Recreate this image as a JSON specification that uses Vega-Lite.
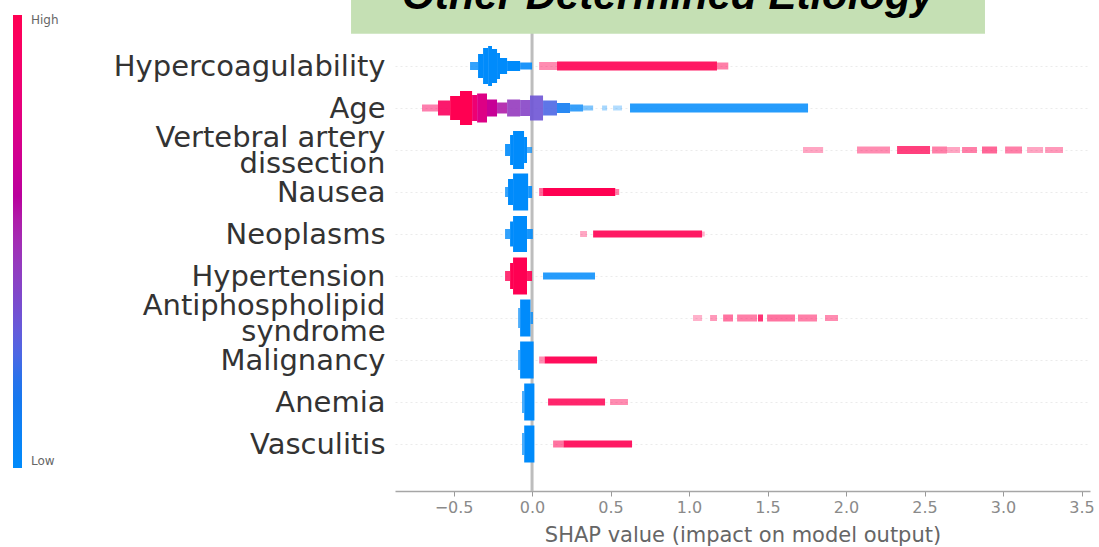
{
  "$schema": "https://vega.github.io/schema/vega-lite/v6.json",
  "width": 695,
  "height": 472,
  "autosize": "none",
  "padding": {"left": 395, "top": 19, "right": 9, "bottom": 56},
  "background": "white",
  "config": {"view": {"stroke": null}, "font": "DejaVu Sans"},
  "data": {"values": [
    {"r":0,"a":-0.395,"b":-0.344,"h":8,"c":0,"d":0.8},
    {"r":0,"a":-0.344,"b":-0.312,"h":24,"c":0,"d":1},
    {"r":0,"a":-0.312,"b":-0.280,"h":36,"c":0,"d":1},
    {"r":0,"a":-0.280,"b":-0.255,"h":40,"c":0,"d":1},
    {"r":0,"a":-0.255,"b":-0.223,"h":34,"c":0,"d":1},
    {"r":0,"a":-0.223,"b":-0.204,"h":26,"c":0,"d":1},
    {"r":0,"a":-0.204,"b":-0.159,"h":16,"c":0,"d":1},
    {"r":0,"a":-0.159,"b":-0.076,"h":10,"c":0,"d":1},
    {"r":0,"a":-0.076,"b":0,"h":7,"c":0.02,"d":0.9},
    {"r":0,"a":0.045,"b":0.159,"h":8,"c":1,"d":0.45},
    {"r":0,"a":0.159,"b":1.178,"h":9,"c":1,"d":0.9},
    {"r":0,"a":1.178,"b":1.25,"h":7,"c":1,"d":0.5},

    {"r":1,"a":-0.701,"b":-0.599,"h":7,"c":0.95,"d":0.5},
    {"r":1,"a":-0.599,"b":-0.522,"h":15,"c":0.95,"d":0.9},
    {"r":1,"a":-0.522,"b":-0.459,"h":24,"c":1,"d":1},
    {"r":1,"a":-0.459,"b":-0.382,"h":34,"c":1,"d":1},
    {"r":1,"a":-0.382,"b":-0.350,"h":26,"c":0.85,"d":1},
    {"r":1,"a":-0.350,"b":-0.287,"h":29,"c":0.75,"d":1},
    {"r":1,"a":-0.287,"b":-0.223,"h":17,"c":0.65,"d":1},
    {"r":1,"a":-0.223,"b":-0.159,"h":11,"c":0.55,"d":0.9},
    {"r":1,"a":-0.159,"b":-0.076,"h":17,"c":0.45,"d":0.9},
    {"r":1,"a":-0.076,"b":-0.013,"h":16,"c":0.4,"d":0.9},
    {"r":1,"a":-0.013,"b":0.070,"h":25,"c":0.33,"d":0.9},
    {"r":1,"a":0.070,"b":0.159,"h":15,"c":0.25,"d":0.9},
    {"r":1,"a":0.159,"b":0.242,"h":10,"c":0.12,"d":0.9},
    {"r":1,"a":0.242,"b":0.325,"h":7,"c":0.03,"d":0.8},
    {"r":1,"a":0.325,"b":0.389,"h":5,"c":0,"d":0.5},
    {"r":1,"a":0.446,"b":0.478,"h":5,"c":0,"d":0.35},
    {"r":1,"a":0.516,"b":0.573,"h":5,"c":0,"d":0.3},
    {"r":1,"a":0.624,"b":1.758,"h":9,"c":0,"d":0.85},

    {"r":2,"a":-0.172,"b":-0.140,"h":12,"c":0,"d":0.9},
    {"r":2,"a":-0.140,"b":-0.121,"h":30,"c":0,"d":1},
    {"r":2,"a":-0.121,"b":-0.051,"h":38,"c":0,"d":1},
    {"r":2,"a":-0.051,"b":-0.032,"h":26,"c":0,"d":1},
    {"r":2,"a":-0.032,"b":0,"h":6,"c":0,"d":0.7},
    {"r":2,"a":1.726,"b":1.854,"h":6,"c":1,"d":0.35},
    {"r":2,"a":2.070,"b":2.280,"h":7,"c":1,"d":0.45},
    {"r":2,"a":2.325,"b":2.535,"h":8,"c":1,"d":0.75},
    {"r":2,"a":2.548,"b":2.643,"h":7,"c":1,"d":0.5},
    {"r":2,"a":2.643,"b":2.726,"h":6,"c":1,"d":0.35},
    {"r":2,"a":2.739,"b":2.834,"h":6,"c":1,"d":0.5},
    {"r":2,"a":2.866,"b":2.962,"h":7,"c":1,"d":0.6},
    {"r":2,"a":3.013,"b":3.121,"h":7,"c":1,"d":0.5},
    {"r":2,"a":3.153,"b":3.255,"h":6,"c":1,"d":0.35},
    {"r":2,"a":3.268,"b":3.382,"h":6,"c":1,"d":0.4},

    {"r":3,"a":-0.172,"b":-0.153,"h":10,"c":0,"d":0.8},
    {"r":3,"a":-0.153,"b":-0.121,"h":26,"c":0,"d":1},
    {"r":3,"a":-0.121,"b":-0.025,"h":37,"c":0,"d":1},
    {"r":3,"a":-0.025,"b":0,"h":12,"c":0,"d":0.9},
    {"r":3,"a":0.045,"b":0.07,"h":8,"c":1,"d":0.6},
    {"r":3,"a":0.07,"b":0.53,"h":8,"c":1,"d":1},
    {"r":3,"a":0.53,"b":0.555,"h":6,"c":1,"d":0.5},

    {"r":4,"a":-0.172,"b":-0.140,"h":10,"c":0,"d":0.8},
    {"r":4,"a":-0.140,"b":-0.121,"h":25,"c":0,"d":1},
    {"r":4,"a":-0.121,"b":-0.032,"h":36,"c":0,"d":1},
    {"r":4,"a":-0.032,"b":0.005,"h":10,"c":0,"d":0.9},
    {"r":4,"a":0.306,"b":0.350,"h":6,"c":1,"d":0.35},
    {"r":4,"a":0.389,"b":1.083,"h":7,"c":1,"d":0.9},
    {"r":4,"a":1.083,"b":1.10,"h":5,"c":1,"d":0.3},

    {"r":5,"a":-0.172,"b":-0.140,"h":10,"c":1,"d":0.8},
    {"r":5,"a":-0.140,"b":-0.121,"h":26,"c":1,"d":1},
    {"r":5,"a":-0.121,"b":-0.032,"h":37,"c":1,"d":1},
    {"r":5,"a":-0.032,"b":0,"h":10,"c":1,"d":0.9},
    {"r":5,"a":0.070,"b":0.401,"h":7,"c":0,"d":0.85},

    {"r":6,"a":-0.089,"b":-0.076,"h":20,"c":0,"d":0.7},
    {"r":6,"a":-0.076,"b":-0.010,"h":37,"c":0,"d":1},
    {"r":6,"a":-0.010,"b":0.006,"h":12,"c":0,"d":0.8},
    {"r":6,"a":1.025,"b":1.083,"h":6,"c":1,"d":0.3},
    {"r":6,"a":1.134,"b":1.178,"h":6,"c":1,"d":0.4},
    {"r":6,"a":1.217,"b":1.280,"h":7,"c":1,"d":0.55},
    {"r":6,"a":1.306,"b":1.433,"h":7,"c":1,"d":0.5},
    {"r":6,"a":1.439,"b":1.471,"h":7,"c":1,"d":0.8},
    {"r":6,"a":1.497,"b":1.675,"h":7,"c":1,"d":0.55},
    {"r":6,"a":1.694,"b":1.815,"h":7,"c":1,"d":0.5},
    {"r":6,"a":1.866,"b":1.949,"h":6,"c":1,"d":0.45},

    {"r":7,"a":-0.089,"b":-0.076,"h":20,"c":0,"d":0.7},
    {"r":7,"a":-0.076,"b":0.010,"h":37,"c":0,"d":1},
    {"r":7,"a":0.045,"b":0.080,"h":7,"c":1,"d":0.45},
    {"r":7,"a":0.080,"b":0.414,"h":7,"c":1,"d":0.95},

    {"r":8,"a":-0.064,"b":-0.050,"h":22,"c":0,"d":0.7},
    {"r":8,"a":-0.050,"b":0.015,"h":37,"c":0,"d":1},
    {"r":8,"a":0.102,"b":0.465,"h":7,"c":1,"d":0.85},
    {"r":8,"a":0.497,"b":0.611,"h":6,"c":1,"d":0.45},

    {"r":9,"a":-0.064,"b":-0.050,"h":22,"c":0,"d":0.7},
    {"r":9,"a":-0.050,"b":0.015,"h":37,"c":0,"d":1},
    {"r":9,"a":0.134,"b":0.200,"h":7,"c":1,"d":0.55},
    {"r":9,"a":0.200,"b":0.637,"h":7,"c":1,"d":0.9}
  ]},
  "layer": [
    {
      "data": {"values": [{"zero": 0}]},
      "mark": {"type": "rule", "color": "#bdbdbd", "strokeWidth": 3},
      "encoding": {"x": {"field": "zero", "type": "quantitative"}}
    },
    {
      "mark": {"type": "bar", "orient": "horizontal"},
      "encoding": {
        "y": {
          "field": "r", "type": "quantitative",
          "scale": {"domain": [-1, 10], "reverse": true, "nice": false, "zero": false},
          "axis": {
            "title": null,
            "values": [0,1,2,3,4,5,6,7,8,9],
            "labelExpr": "['Hypercoagulability','Age',['Vertebral artery','dissection'],'Nausea','Neoplasms','Hypertension',['Antiphospholipid','syndrome'],'Malignancy','Anemia','Vasculitis'][datum.value]",
            "labelFont": "DejaVu Sans",
            "labelFontSize": 29,
            "labelColor": "#333333",
            "labelLineHeight": 26,
            "labelLimit": 500,
            "labelPadding": 10,
            "labelOffset": {"condition": {"test": "datum.value == 2 || datum.value == 6", "value": -13}, "value": 0},
            "labelOverlap": false,
            "labelFlush": false,
            "domain": false,
            "ticks": false,
            "grid": true,
            "gridColor": "#ebebeb",
            "gridDash": [2, 3],
            "gridWidth": 1
          }
        },
        "x": {
          "field": "a", "type": "quantitative",
          "scale": {"domain": [-0.873, 3.554], "nice": false, "zero": false},
          "axis": {
            "title": "SHAP value (impact on model output)",
            "values": [-0.5, 0, 0.5, 1, 1.5, 2, 2.5, 3, 3.5],
            "format": ".1f",
            "grid": false,
            "labelFont": "DejaVu Sans",
            "labelFontSize": 16,
            "labelColor": "#8a8a8a",
            "labelPadding": 3,
            "labelFlush": false,
            "labelOverlap": false,
            "tickColor": "#999999",
            "tickSize": 5,
            "domainColor": "#a6a6a6",
            "domainWidth": 1.5,
            "titleFont": "DejaVu Sans",
            "titleFontSize": 21,
            "titleFontWeight": "normal",
            "titleColor": "#666666",
            "titlePadding": 9
          }
        },
        "x2": {"field": "b"},
        "size": {"field": "h", "type": "quantitative", "scale": {"domain": [0, 40], "range": [0, 40]}, "legend": null},
        "opacity": {"field": "d", "type": "quantitative", "scale": {"domain": [0, 1], "range": [0, 1]}, "legend": null},
        "color": {
          "field": "c", "type": "quantitative",
          "scale": {
            "domain": [0, 0.185, 0.37, 0.593, 1],
            "range": ["#008bfb", "#1a74ec", "#7b4acc", "#b8009e", "#ff0052"]
          },
          "legend": {
            "orient": "none",
            "legendX": -382,
            "legendY": -4,
            "direction": "vertical",
            "title": null,
            "gradientLength": 453,
            "gradientThickness": 9,
            "gradientStrokeWidth": 0,
            "values": [0, 1],
            "labelExpr": "datum.value >= 1 ? 'High' : 'Low'",
            "labelFont": "DejaVu Sans",
            "labelFontSize": 12,
            "labelColor": "#666666",
            "labelOffset": 9
          }
        }
      }
    },
    {
      "data": {"values": [{"x0": -1.153, "x1": 2.885, "y0": -2, "y1": -0.767}]},
      "mark": {"type": "rect", "color": "#c5e0b4", "clip": false},
      "encoding": {
        "x": {"field": "x0", "type": "quantitative"},
        "x2": {"field": "x1"},
        "y": {"field": "y0", "type": "quantitative"},
        "y2": {"field": "y1"}
      }
    },
    {
      "data": {"values": [{"label": "Other Determined Etiology", "tx": 0.866, "ty": -1.35}]},
      "mark": {"type": "text", "font": "Liberation Sans", "fontSize": 42, "fontWeight": "bold", "fontStyle": "italic", "color": "#000000", "baseline": "alphabetic", "align": "center", "clip": false},
      "encoding": {
        "x": {"field": "tx", "type": "quantitative"},
        "y": {"field": "ty", "type": "quantitative"},
        "text": {"field": "label"}
      }
    }
  ]
}
